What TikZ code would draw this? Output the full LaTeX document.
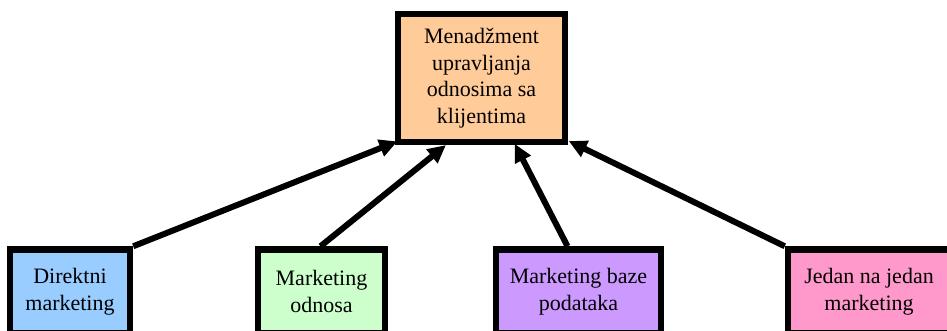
\documentclass[tikz,border=0pt]{standalone}
\usepackage{fontspec}
\setmainfont{Liberation Serif}
\usetikzlibrary{arrows.meta,calc}
\definecolor{cTop}{HTML}{FFCC99}
\definecolor{cOne}{HTML}{99CCFF}
\definecolor{cTwo}{HTML}{CCFFCC}
\definecolor{cThree}{HTML}{CC99FF}
\definecolor{cFour}{HTML}{FF99CC}
\begin{document}
\begin{tikzpicture}[x=1pt,y=1pt,
  box/.style={draw=black,line width=6.5pt,inner sep=0pt,align=center,
    font=\fontsize{22}{26.5}\selectfont},
  conn/.style={line width=6pt,shorten >=-5pt,-{Triangle[length=18pt,width=17pt]}}]
\useasboundingbox (0,0) rectangle (947,330);
\clip (0,0) rectangle (947,330);
\node[box,fill=cTop,minimum width=167pt,minimum height=128pt] (top) at (481.5,252)
  {Menadžment\\upravljanja\\odnosima sa\\klijentima};
\node[box,fill=cOne,minimum width=120pt,minimum height=84pt] (b1) at (70,38.5)
  {Direktni\\marketing};
\node[box,fill=cTwo,minimum width=127pt,minimum height=84pt] (b2) at (321.5,38.5)
  {Marketing\\odnosa};
\node[box,fill=cThree,minimum width=165pt,minimum height=84pt] (b3) at (578.5,38.5)
  {Marketing baze\\podataka};
\node[box,fill=cFour,minimum width=162pt,minimum height=84pt] (b4) at (869,38.5)
  {Jedan na jedan\\marketing};
\draw[conn] (b1.north east) -- ($(top.south west)+(-2,2)$);
\draw[conn] ($(b2.north)+(-1,0)$) -- ($(top.south)+(-39.5,-3)$);
\draw[conn] ($(b3.north)+(-11,0)$) -- ($(top.south)+(35.5,-3)$);
\draw[conn] (b4.north west) -- ($(top.south east)+(5,2)$);
\end{tikzpicture}
\end{document}
